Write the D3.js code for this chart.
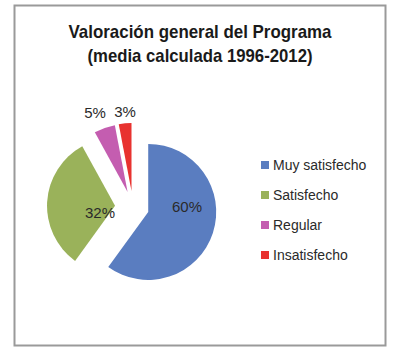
<!DOCTYPE html>
<meta charset="utf-8">
<style>
body { margin: 0; background: #fff; }
text { font-family: "Liberation Sans", Arial, sans-serif; }
</style>
<svg width="400" height="354"></svg>
<script src="https://d3js.org/d3.v7.min.js"></script>
<script>
// data
var categories = ["Muy satisfecho", "Satisfecho", "Regular", "Insatisfecho"];
var values = [60, 32, 5, 3];
var labels = ["60%", "32%", "5%", "3%"];
var colors = ["#5a7dc0", "#9ab25a", "#c45db0", "#e8322f"];
var explode = [16, 18, 16, 16];
var titleLines = ["Valoración general del Programa", "(media calculada 1996-2012)"];

var svg = d3.select("svg");

// frame
svg.append("rect")
  .attr("x", 14.5).attr("y", 5.5)
  .attr("width", 371).attr("height", 340)
  .attr("fill", "#fff")
  .attr("stroke", "#9a9a9a")
  .attr("stroke-width", 2);

// title
svg.selectAll(".title")
  .data(titleLines)
  .enter().append("text")
  .attr("class", "title")
  .attr("x", 200)
  .attr("y", (d, i) => 38 + i * 24)
  .attr("text-anchor", "middle")
  .attr("font-size", 19)
  .attr("font-weight", "bold")
  .attr("fill", "#1a1a1a")
  .attr("textLength", (d, i) => i == 0 ? 263 : 225)
  .attr("lengthAdjust", "spacingAndGlyphs")
  .text(d => d);

// pie
var cx = 133, cy = 207, r = 68;
var pie = d3.pie().sort(null).value(d => d);
var arcs = pie(values);
var arc = d3.arc().innerRadius(0).outerRadius(r);

function offset(d, i) {
  var a = (d.startAngle + d.endAngle) / 2;
  return [Math.sin(a) * explode[i], -Math.cos(a) * explode[i]];
}

var g = svg.append("g").attr("transform", "translate(" + cx + "," + cy + ")");

g.selectAll("path")
  .data(arcs)
  .enter().append("path")
  .attr("d", arc)
  .attr("fill", (d, i) => colors[i])
  .attr("transform", (d, i) => "translate(" + offset(d, i) + ")");

// value labels (relative to pie centre, baseline)
var labelPos = [[54, 5], [-33, 11], [-38, -89], [-8, -90]];
g.selectAll(".lbl")
  .data(arcs)
  .enter().append("text")
  .attr("class", "lbl")
  .attr("x", (d, i) => labelPos[i][0])
  .attr("y", (d, i) => labelPos[i][1])
  .attr("text-anchor", "middle")
  .attr("font-size", 15)
  .attr("fill", "#2a2a2a")
  .text((d, i) => labels[i]);

// legend
var y = d3.scalePoint().domain(categories).range([165, 255]);
var leg = svg.selectAll(".leg")
  .data(categories)
  .enter().append("g")
  .attr("class", "leg")
  .attr("transform", d => "translate(261," + y(d) + ")");
leg.append("rect")
  .attr("x", 0).attr("y", -4)
  .attr("width", 8).attr("height", 8)
  .attr("fill", (d, i) => colors[i]);
leg.append("text")
  .attr("x", 12).attr("y", 5)
  .attr("font-size", 14)
  .attr("fill", "#2a2a2a")
  .text(d => d);
</script>
